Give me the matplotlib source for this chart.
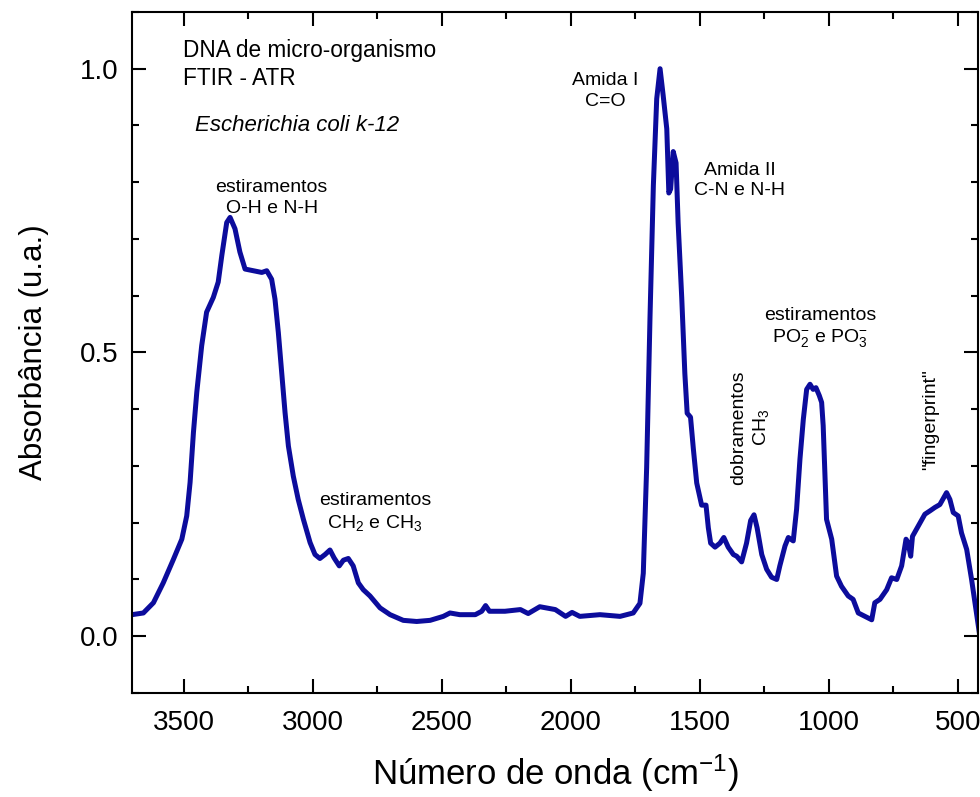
import numpy as np
import matplotlib.pyplot as plt
from matplotlib.ticker import MultipleLocator

plt.rcParams['font.family'] = ['Liberation Sans', 'DejaVu Sans']
plt.rcParams['mathtext.fontset'] = 'custom'
plt.rcParams['mathtext.rm'] = 'Liberation Sans'
plt.rcParams['mathtext.it'] = 'Liberation Sans:italic'

# espectro FTIR-ATR (numero de onda em cm-1, absorbancia)
wavenumber = [3700, 3656, 3617, 3579, 3540, 3507, 3488, 3475, 3462, 3449,
              3430, 3411, 3385, 3366, 3352, 3333, 3320, 3301, 3282, 3262,
              3230, 3197, 3178, 3159, 3146, 3133, 3120, 3107, 3094, 3075,
              3056, 3036, 3010, 2991, 2972, 2952, 2933, 2917, 2897, 2881,
              2862, 2843, 2823, 2804, 2778, 2739, 2700, 2649, 2597, 2545,
              2494, 2468, 2430, 2370, 2345, 2330, 2315, 2255, 2195, 2165,
              2120, 2060, 2020, 1995, 1965, 1887, 1809, 1758, 1732, 1719,
              1706, 1693, 1680, 1667, 1654, 1642, 1628, 1620, 1613, 1603,
              1592, 1584, 1570, 1558, 1549, 1536, 1525, 1512, 1493, 1476,
              1467, 1458, 1441, 1422, 1407, 1390, 1370, 1357, 1338, 1319,
              1303, 1290, 1278, 1260, 1241, 1222, 1202, 1190, 1170, 1157,
              1138, 1125, 1112, 1099, 1086, 1073, 1061, 1050, 1037, 1028,
              1022, 1015, 1009, 989, 970, 951, 925, 906, 886, 860,
              834, 822, 802, 776, 757, 737, 718, 701, 693, 683,
              676, 654, 628, 608, 589, 570, 544, 531, 518, 499,
              486, 466, 447, 428, 415]
absorbance = [0.038, 0.041, 0.059, 0.094, 0.135, 0.171, 0.212, 0.271, 0.359, 0.430,
              0.512, 0.571, 0.597, 0.624, 0.671, 0.729, 0.738, 0.718, 0.677, 0.647,
              0.644, 0.641, 0.644, 0.629, 0.594, 0.535, 0.465, 0.394, 0.335, 0.282,
              0.241, 0.206, 0.165, 0.144, 0.137, 0.144, 0.152, 0.138, 0.124, 0.134,
              0.137, 0.124, 0.094, 0.082, 0.071, 0.050, 0.038, 0.028, 0.026, 0.028,
              0.035, 0.041, 0.038, 0.038, 0.044, 0.054, 0.044, 0.044, 0.047, 0.040,
              0.052, 0.047, 0.035, 0.042, 0.035, 0.038, 0.035, 0.041, 0.058, 0.111,
              0.297, 0.562, 0.794, 0.947, 1.000, 0.953, 0.894, 0.781, 0.788, 0.854,
              0.834, 0.728, 0.596, 0.463, 0.393, 0.386, 0.330, 0.270, 0.231, 0.231,
              0.191, 0.164, 0.157, 0.164, 0.174, 0.157, 0.144, 0.141, 0.131, 0.164,
              0.204, 0.214, 0.191, 0.144, 0.118, 0.104, 0.100, 0.124, 0.159, 0.174,
              0.168, 0.224, 0.312, 0.382, 0.435, 0.444, 0.435, 0.438, 0.424, 0.412,
              0.371, 0.282, 0.206, 0.171, 0.106, 0.088, 0.071, 0.065, 0.041, 0.035,
              0.029, 0.059, 0.065, 0.082, 0.103, 0.100, 0.124, 0.171, 0.165, 0.141,
              0.176, 0.194, 0.215, 0.221, 0.227, 0.232, 0.253, 0.241, 0.218, 0.212,
              0.182, 0.153, 0.100, 0.041, 0.0]

x_ticks = [3500, 3000, 2500, 2000, 1500, 1000, 500]
y_ticks = [0.0, 0.5, 1.0]

fig = plt.figure(figsize=(9.8, 7.97), dpi=100)
ax = fig.add_axes([0.1347, 0.1305, 0.8633, 0.8545])

ax.plot(wavenumber, absorbance, color='#0c0c9c', lw=3.6,
        solid_joinstyle='round', solid_capstyle='round')

ax.set_xlim(3700, 422)
ax.set_ylim(-0.1, 1.1)
ax.set_xticks(x_ticks)
ax.set_yticks(y_ticks)
ax.set_yticklabels([f'{v:.1f}' for v in y_ticks])
ax.xaxis.set_minor_locator(MultipleLocator(250))
ax.yaxis.set_minor_locator(MultipleLocator(0.1))
ax.tick_params(which='both', direction='in', top=True, right=True, width=1.5)
ax.tick_params(which='major', length=10, labelsize=20)
ax.tick_params(which='minor', length=5)
ax.tick_params(axis='x', pad=12)
ax.tick_params(axis='y', pad=10)
for s in ax.spines.values():
    s.set_linewidth(1.5)

ax.set_xlabel('Número de onda (cm$^{-1}$)', fontsize=25, labelpad=12)
ax.set_ylabel('Absorbância (u.a.)', fontsize=22.5, labelpad=22)

ax.text(0.06, 0.943, 'DNA de micro-organismo', transform=ax.transAxes,
        fontsize=16.3, va='center')
ax.text(0.06, 0.903, 'FTIR - ATR', transform=ax.transAxes, fontsize=16.3, va='center')
ax.text(0.074, 0.833, 'Escherichia coli k-12', transform=ax.transAxes,
        fontsize=16, va='center', style='italic')

def note(x, y, s, rot=0):
    ax.text(x, y, s, transform=ax.transAxes, fontsize=14, ha='center',
            va='center', rotation=rot, linespacing=1.25)

note(0.165, 0.727, 'estiramentos\nO-H e N-H')
note(0.287, 0.265, 'estiramentos\nCH$_2$ e CH$_3$')
note(0.559, 0.884, 'Amida I\nC=O')
note(0.718, 0.753, 'Amida II\nC-N e N-H')
note(0.813, 0.536, 'estiramentos\nPO$_2^{-}$ e PO$_3^{-}$')
note(0.731, 0.39, 'dobramentos\nCH$_3$', rot=90)
note(0.944, 0.401, '"fingerprint"', rot=90)

fig.savefig('out.png', dpi=100)
